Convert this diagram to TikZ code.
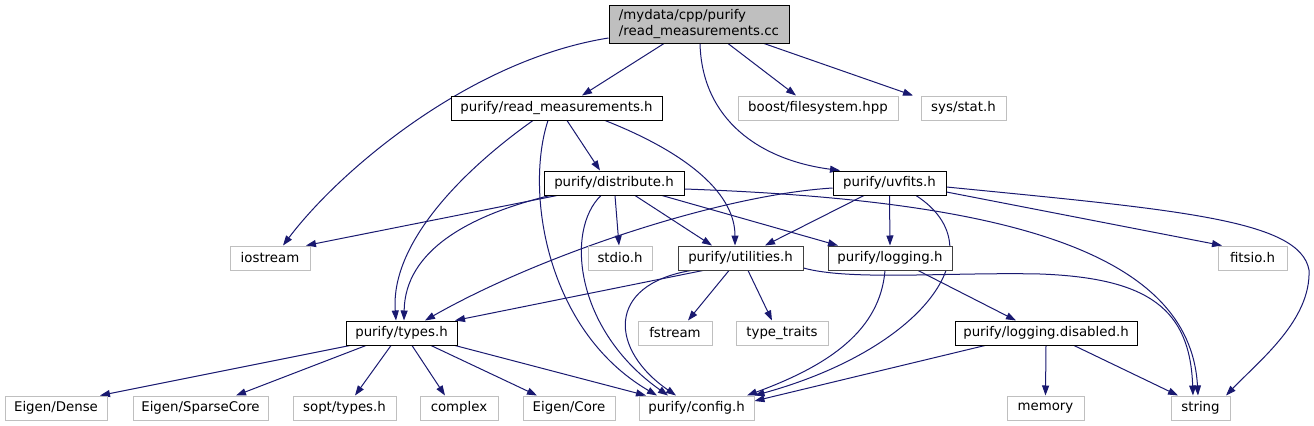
\documentclass[tikz,border=0pt]{standalone}
\usepackage{fontspec}
\setmainfont{DejaVu Sans}
\usetikzlibrary{arrows.meta,backgrounds}
\definecolor{edgec}{HTML}{191970}
\definecolor{lgray}{HTML}{BFBFBF}
\begin{document}
\begin{tikzpicture}[x=0.75pt,y=-0.75pt,
  nb/.style={draw=black,line width=0.75pt,fill=white,inner sep=0pt,minimum height=18pt,font=\fontsize{10pt}{12pt}\selectfont},
  db/.style={nb,draw=black!75},
  gb/.style={nb,draw=lgray},
  edge/.style={draw=edgec,line width=0.75pt,-{Triangle[length=7.5pt,width=5.25pt]}}]
\useasboundingbox (0,0) rectangle (1314,425);
% row 1
\node[nb,fill=lgray,minimum width=135pt,minimum height=28.5pt,align=left] (root) at (699,24) {/mydata/cpp/purify\\/read\_measurements.cc};
% row 2
\node[nb,minimum width=158.25pt] (rm) at (556.5,108) {purify/read\_measurements.h};
\node[gb,minimum width=120pt] (boost) at (818,108) {boost/filesystem.hpp};
\node[gb,minimum width=63.75pt] (sysstat) at (963.5,108) {sys/stat.h};
% row 3
\node[nb,minimum width=105pt] (distribute) at (614,183) {purify/distribute.h};
\node[nb,minimum width=84.75pt] (uvfits) at (889.5,183) {purify/uvfits.h};
% row 4
\node[gb,minimum width=60pt] (iostream) at (270,258) {iostream};
\node[gb,minimum width=48pt] (stdio) at (620,258) {stdio.h};
\node[db,minimum width=93.75pt] (utilities) at (740.5,258) {purify/utilities.h};
\node[db,minimum width=93pt] (logging) at (890,258) {purify/logging.h};
\node[gb,minimum width=51.75pt] (fitsio) at (1252.5,258) {fitsio.h};
% row 5
\node[nb,minimum width=83.25pt] (types) at (401.5,333) {purify/types.h};
\node[gb,minimum width=55.5pt] (fstream) at (675,333) {fstream};
\node[gb,minimum width=69pt] (typetraits) at (782,333) {type\_traits};
\node[nb,minimum width=136.5pt] (logdis) at (1046,333) {purify/logging.disabled.h};
% row 6
\node[gb,minimum width=76.5pt] (dense) at (56,408) {Eigen/Dense};
\node[gb,minimum width=101.25pt] (sparse) at (200.5,408) {Eigen/SparseCore};
\node[gb,minimum width=77.25pt] (sopt) at (344.5,408) {sopt/types.h};
\node[gb,minimum width=58.5pt] (complex) at (459,408) {complex};
\node[gb,minimum width=69pt] (core) at (569,408) {Eigen/Core};
\node[gb,minimum width=86.25pt] (config) at (696.5,408) {purify/config.h};
\node[gb,minimum width=57.75pt] (memory) at (1045.5,408) {memory};
\node[gb,minimum width=44.25pt] (string) at (1200.5,408) {string};
\coordinate (bend) at (1309,270);
\coordinate (dip) at (1040,274);
\begin{scope}[on background layer]
% root edges
\draw[edge] (root.west |- 0,38) .. controls (470,60) and (340,170) .. (iostream.north -| 283,0);
\draw[edge] (root.south -| 664,0) -- (rm.north -| 582,0);
\draw[edge] (root.south -| 728,0) -- (boost.north -| 796,0);
\draw[edge] (root.south -| 764,0) -- (sysstat.north -| 913,0);
\draw[edge] (root.south -| 700,0) .. controls (702,120) and (760,160) .. (uvfits.north -| 840,0);
% read_measurements.h edges
\draw[edge] (rm.south -| 567,0) -- (distribute.north -| 600,0);
\draw[edge] (rm.south -| 533,0) .. controls (470,165) and (390,240) .. (types.north -| 396,0);
\draw[edge] (rm.south -| 548,0) .. controls (525,190) and (545,330) .. (config.north -| 657,0);
\draw[edge] (rm.south -| 605,0) .. controls (680,150) and (735,190) .. (utilities.north -| 735,0);
% distribute.h edges
\draw[edge] (distribute.south -| 557,0) -- (iostream.north -| 306,0);
\draw[edge] (distribute.south -| 550,0) .. controls (470,215) and (405,250) .. (types.north -| 404,0);
\draw[edge] (distribute.south -| 615,0) -- (stdio.north -| 619,0);
\draw[edge] (distribute.south -| 635,0) -- (utilities.north -| 712,0);
\draw[edge] (distribute.south -| 662,0) -- (logging.north -| 838,0);
\draw[edge] (distribute.south -| 601,0) .. controls (565,230) and (575,330) .. (config.north -| 668,0);
\draw[edge] (distribute.east |- 0,189) .. controls (1000,200) and (1190,250) .. (string.north -| 1198,0);
% uvfits.h edges
\draw[edge] (uvfits.west |- 0,188) .. controls (720,195) and (540,255) .. (types.north -| 425,0);
\draw[edge] (uvfits.south -| 864,0) -- (utilities.north -| 765,0);
\draw[edge] (uvfits.south) -- (logging.north);
\draw[edge] (uvfits.south -| 916,0) .. controls (1000,250) and (920,350) .. (config.north east);
\draw[edge] (uvfits.east |- 0,192) -- (fitsio.north -| 1222,0);
\draw[edge] (uvfits.east |- 0,187) .. controls (1180,210) and (1300,220) .. (bend) .. controls (1311,320) and (1260,360) .. (string.north -| 1226,0);
% utilities.h edges
\draw[edge] (utilities.south -| 703,0) -- (types.north -| 455,0);
\draw[edge] (utilities.south -| 729,0) -- (fstream.north -| 688,0);
\draw[edge] (utilities.south -| 748,0) -- (typetraits.north -| 772,0);
\draw[edge] (utilities.south -| 691,0) .. controls (605,285) and (610,350) .. (config.north -| 676,0);
\draw[edge] (utilities.east |- 0,268) .. controls (850,281) and (950,272) .. (dip) .. controls (1150,278) and (1190,310) .. (string.north -| 1193,0);
% logging.h edges
\draw[edge] (logging.south -| 885,0) .. controls (880,330) and (830,365) .. (config.north -| 747,0);
\draw[edge] (logging.south -| 918,0) -- (logdis.north -| 1016,0);
% logging.disabled.h edges
\draw[edge] (logdis.south -| 985,0) -- (config.east |- 0,401);
\draw[edge] (logdis.south) -- (memory.north);
\draw[edge] (logdis.south -| 1074,0) -- (string.north -| 1178,0);
% types.h edges
\draw[edge] (types.south -| 350,0) -- (dense.north -| 100,0);
\draw[edge] (types.south -| 366,0) -- (sparse.north -| 236,0);
\draw[edge] (types.south -| 391,0) -- (sopt.north -| 355,0);
\draw[edge] (types.south -| 412,0) -- (complex.north -| 445,0);
\draw[edge] (types.south -| 431,0) -- (core.north -| 537,0);
\draw[edge] (types.south -| 455,0) -- (config.north -| 646,0);
\end{scope}
\end{tikzpicture}
\end{document}
